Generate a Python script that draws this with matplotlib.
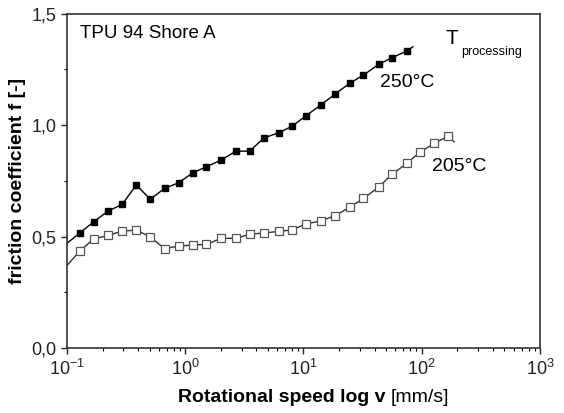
import numpy as np
import matplotlib.pyplot as plt
from matplotlib.ticker import FixedLocator, FuncFormatter, LogLocator, NullFormatter

plt.rcParams['font.family'] = ['Liberation Sans', 'DejaVu Sans']

# 250 °C processing temperature (filled squares)
v_250 = [0.10, 0.129, 0.168, 0.222, 0.292, 0.386, 0.506, 0.668, 0.877, 1.16, 1.51,
         2.01, 2.68, 3.50, 4.65, 6.15, 8.07, 10.5, 14.0, 18.5, 24.5, 32.1, 43.1,
         55.9, 74.8, 84.1]
f_250 = [0.47, 0.517, 0.566, 0.614, 0.644, 0.731, 0.667, 0.716, 0.741, 0.786, 0.813,
         0.843, 0.883, 0.883, 0.943, 0.965, 0.996, 1.042, 1.090, 1.139, 1.187, 1.224,
         1.272, 1.302, 1.332, 1.351]

# 205 °C processing temperature (open squares)
v_205 = [0.10, 0.129, 0.168, 0.222, 0.292, 0.386, 0.506, 0.668, 0.877, 1.16, 1.51,
         2.01, 2.68, 3.50, 4.65, 6.15, 8.07, 10.5, 14.0, 18.5, 24.5, 32.1, 43.1,
         55.9, 74.8, 97.0, 128.0, 168.0, 188.0]
f_205 = [0.37, 0.437, 0.489, 0.505, 0.524, 0.529, 0.498, 0.446, 0.457, 0.462, 0.465,
         0.492, 0.492, 0.510, 0.516, 0.523, 0.530, 0.557, 0.570, 0.594, 0.631, 0.671,
         0.721, 0.779, 0.828, 0.880, 0.918, 0.951, 0.925]

fig = plt.figure(figsize=(5.64, 4.13), dpi=100)
ax = fig.add_axes([0.1188, 0.1574, 0.8386, 0.8096])

# lines through all points, markers only on the measured ones
ax.plot(v_250, f_250, color='black', lw=1.0)
ax.plot(v_250[1:-1], f_250[1:-1], 's', ms=5, mfc='black', mec='black', ls='none')
ax.plot(v_205, f_205, color='#333333', lw=1.0)
ax.plot(v_205[1:-1], f_205[1:-1], 's', ms=5.5, mfc='white', mec='#555555', mew=0.9, ls='none')

ax.set_xscale('log')
ax.set_xlim(0.1, 1000)
ax.set_ylim(0, 1.5)

ax.xaxis.set_major_locator(LogLocator(base=10, numticks=10))
ax.xaxis.set_minor_locator(LogLocator(base=10, subs=np.arange(2, 10), numticks=20))
ax.xaxis.set_minor_formatter(NullFormatter())
ax.yaxis.set_major_locator(FixedLocator([0, 0.5, 1.0, 1.5]))
ax.yaxis.set_minor_locator(FixedLocator([0.25, 0.75, 1.25]))
ax.yaxis.set_major_formatter(FuncFormatter(lambda y, p: f"{y:.1f}".replace('.', ',')))

ax.tick_params(which='major', direction='out', length=4, width=1, labelsize=13, colors='#222222')
ax.tick_params(which='minor', direction='out', length=2.5, width=0.8)
for s in ax.spines.values():
    s.set_linewidth(1.2)
    s.set_color('#333333')

ax.set_ylabel('friction coefficient f [-]', fontsize=14, fontweight='bold', labelpad=4)
# x label: bold quantity, regular unit
fig.text(385 / 564, 1 - 398 / 413, 'Rotational speed log v', fontsize=14,
         fontweight='bold', ha='right', va='center')
fig.text(391 / 564, 1 - 398 / 413, '[mm/s]', fontsize=14, ha='left', va='center')

ax.text(0.13, 1.41, 'TPU 94 Shore A', fontsize=13.5, va='center', ha='left')
ax.text(158, 1.388, 'T', fontsize=15, va='center', ha='left')
ax.text(217, 1.327, 'processing', fontsize=9, va='center', ha='left')
ax.text(44.5, 1.19, '250°C', fontsize=14, va='center', ha='left')
ax.text(122, 0.815, '205°C', fontsize=14, va='center', ha='left')

fig.savefig('out.png', dpi=100)
